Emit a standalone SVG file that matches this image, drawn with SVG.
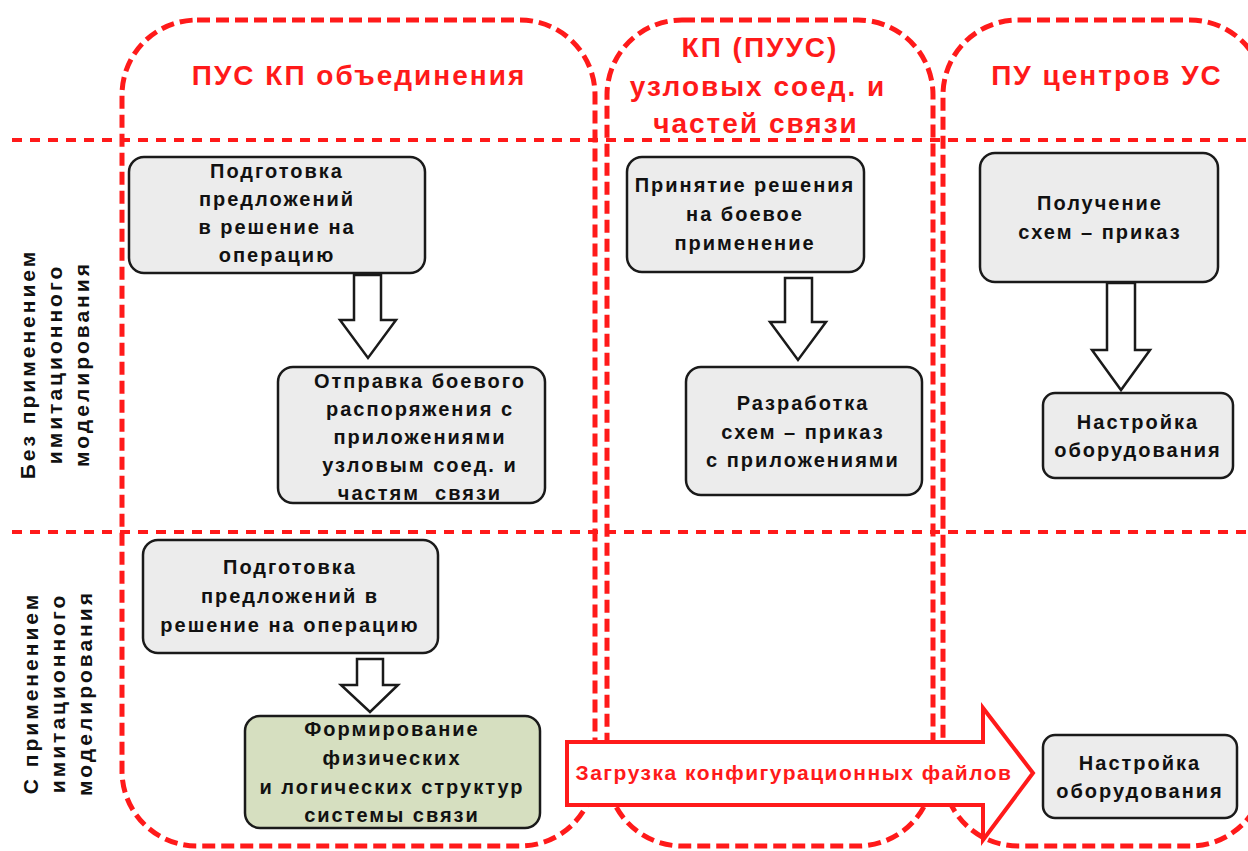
<svg xmlns="http://www.w3.org/2000/svg" width="1248" height="851" viewBox="0 0 1248 851">
<style>
.lane{fill:none;stroke:#ff1a1a;stroke-width:5;stroke-dasharray:13 6}
.hline{stroke:#ff1a1a;stroke-width:4;stroke-dasharray:10 8}
.box{fill:#ececec;stroke:#1a1a1a;stroke-width:2.5}
.green{fill:#d6dfc0}
.harrow{fill:#fff;stroke:#1a1a1a;stroke-width:2.5;stroke-linejoin:miter}
.t{font-family:"Liberation Sans",Arial,sans-serif;font-weight:bold;font-size:20px;fill:#111;text-anchor:middle;letter-spacing:2px}
.h{font-family:"Liberation Sans",Arial,sans-serif;font-weight:bold;font-size:28px;fill:#ff1a1a;text-anchor:middle;letter-spacing:2px}
.side{font-family:"Liberation Sans",Arial,sans-serif;font-weight:bold;font-size:21px;fill:#111;text-anchor:middle;letter-spacing:3px}
.rt{font-family:"Liberation Sans",Arial,sans-serif;font-weight:bold;font-size:21px;fill:#ff1a1a;text-anchor:middle;letter-spacing:1.5px}
</style>
<rect width="1248" height="851" fill="#fff"/>
<g id="lanes">
<rect class="lane" x="122" y="20" width="473" height="826" rx="75" ry="75"/>
<rect class="lane" x="607" y="20" width="326" height="826" rx="75" ry="75"/>
<rect class="lane" x="943" y="20" width="322" height="826" rx="75" ry="75"/>
<line class="hline" x1="12" y1="140" x2="1248" y2="140"/>
<line class="hline" x1="12" y1="532" x2="1248" y2="532"/>
</g>
<g id="headers">
<text class="h" x="359" y="85">ПУС КП объединения</text>
<text class="h" x="760" y="57">КП (ПУУС)</text>
<text class="h" x="758" y="96">узловых соед. и</text>
<text class="h" x="756" y="133">частей связи</text>
<text class="h" x="1107" y="85">ПУ центров УС</text>
</g>
<g id="row-labels">
<g transform="rotate(-90)">
<text class="side" x="-364" y="35">Без применением</text>
<text class="side" x="-364" y="62">имитационного</text>
<text class="side" x="-364" y="89">моделирования</text>
<text class="side" x="-693" y="38">С применением</text>
<text class="side" x="-693" y="65">имитационного</text>
<text class="side" x="-693" y="92">моделирования</text>
</g>
</g>
<g id="connectors">
<polygon class="harrow" points="354,275 381,275 381,320 396,320 368,358 340,320 354,320"/>
<polygon class="harrow" points="785,278 812,278 812,322 826,322 798,360 770,322 785,322"/>
<polygon class="harrow" points="1107,283 1135,283 1135,350 1150,350 1121,390 1092,350 1107,350"/>
<polygon class="harrow" points="357,659 383,659 383,685 398,685 370,712 341,685 357,685"/>
<polygon fill="#fff" stroke="#ff1a1a" stroke-width="4" points="567,742 983,742 983,708 1033,773 983,840 983,805 567,805"/>
<text class="rt" x="794" y="780">Загрузка конфигурационных файлов</text>
</g>
<g id="n1">
<rect class="box" x="129" y="157" width="296" height="116" rx="15"/>
<text class="t" x="277" y="178">Подготовка</text>
<text class="t" x="277" y="206">предложений</text>
<text class="t" x="277" y="234">в решение на</text>
<text class="t" x="277" y="262">операцию</text>
</g>
<g id="n2">
<rect class="box" x="278" y="367" width="267" height="136" rx="15"/>
<text class="t" x="420" y="388">Отправка боевого</text>
<text class="t" x="420" y="416">распоряжения с</text>
<text class="t" x="420" y="444">приложениями</text>
<text class="t" x="420" y="472">узловым соед. и</text>
<text class="t" x="420" y="500" xml:space="preserve">частям  связи</text>
</g>
<g id="n3">
<rect class="box" x="627" y="157" width="237" height="115" rx="15"/>
<text class="t" x="745" y="192">Принятие решения</text>
<text class="t" x="745" y="221">на боевое</text>
<text class="t" x="745" y="250">применение</text>
</g>
<g id="n4">
<rect class="box" x="686" y="367" width="236" height="128" rx="15"/>
<text class="t" x="803" y="410">Разработка</text>
<text class="t" x="803" y="439">схем – приказ</text>
<text class="t" x="803" y="467">с приложениями</text>
</g>
<g id="n5">
<rect class="box" x="980" y="153" width="238" height="129" rx="15"/>
<text class="t" x="1100" y="210">Получение</text>
<text class="t" x="1100" y="239">схем – приказ</text>
</g>
<g id="n6">
<rect class="box" x="1043" y="393" width="190" height="85" rx="12"/>
<text class="t" x="1138" y="429">Настройка</text>
<text class="t" x="1138" y="457">оборудования</text>
</g>
<g id="n7">
<rect class="box" x="143" y="540" width="295" height="113" rx="15"/>
<text class="t" x="290" y="574">Подготовка</text>
<text class="t" x="290" y="603">предложений в</text>
<text class="t" x="290" y="632">решение на операцию</text>
</g>
<g id="n8">
<rect class="box green" x="245" y="716" width="295" height="112" rx="15"/>
<text class="t" x="392" y="736">Формирование</text>
<text class="t" x="392" y="765">физических</text>
<text class="t" x="392" y="794">и логических структур</text>
<text class="t" x="392" y="822">системы связи</text>
</g>
<g id="n9">
<rect class="box" x="1043" y="735" width="194" height="83" rx="12"/>
<text class="t" x="1140" y="770">Настройка</text>
<text class="t" x="1140" y="798">оборудования</text>
</g>
</svg>
